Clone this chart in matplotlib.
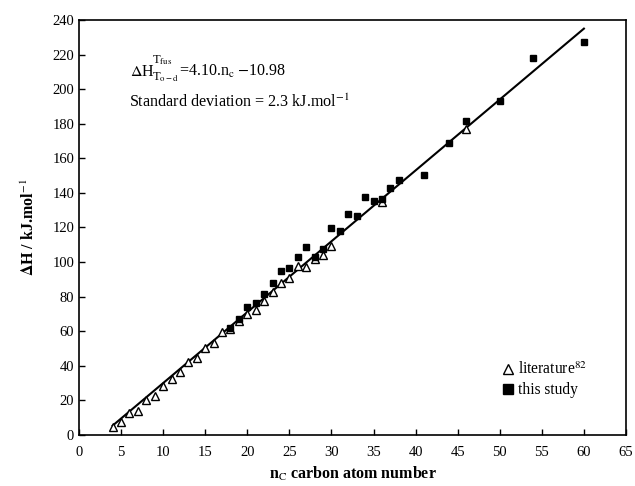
import numpy as np
import matplotlib
matplotlib.use("Agg")
import matplotlib.pyplot as plt

# -----------------------------------------
# Data
# -----------------------------------------

lit_n = [4, 5, 6, 7, 8, 9, 10, 11, 12, 13, 14, 15, 16, 17, 18, 19, 20,
         21, 22, 23, 24, 25, 26, 27, 28, 29, 30, 36, 46]
lit_dh = [4.5, 7.7, 12.5, 14.0, 20.5, 22.3, 28.3, 32.4, 36.4, 42.0, 44.7,
          50.5, 53.0, 59.7, 61.5, 66.0, 70.0, 72.3, 77.3, 82.9, 88.1, 90.6,
          98.0, 97.0, 102.0, 104.0, 109.5, 134.6, 176.8]

study_n = [18, 19, 20, 21, 22, 23, 24, 25, 26, 27, 28, 29, 30, 31, 32, 33,
           34, 35, 36, 37, 38, 41, 44, 46, 50, 54, 60]
study_dh = [61.9, 66.9, 74.2, 76.5, 81.5, 87.7, 94.9, 96.8, 102.8, 108.5,
            103.0, 107.6, 119.9, 118.2, 127.6, 126.7, 137.8, 135.5, 136.3,
            143.0, 147.7, 150.2, 168.7, 181.8, 193.3, 218.2, 227.3]

slope = 4.10
intercept = -10.98
fit_range = [4, 60]

# -----------------------------------------
# Plot
# -----------------------------------------

plt.rcParams["font.family"] = ["Liberation Serif", "DejaVu Serif"]
plt.rcParams["mathtext.fontset"] = "stix"

fig = plt.figure(figsize=(6.35, 4.86), dpi=100)
ax = fig.add_axes([0.1244, 0.105, 0.8614, 0.8538])

x_fit = np.array(fit_range)
ax.plot(x_fit, slope * x_fit + intercept, color="black", lw=1.5, zorder=1)

ax.plot(lit_n, lit_dh, linestyle="none", marker="^", ms=6,
        mfc="white", mec="black", mew=1.0, label=r"literature$^{82}$", zorder=2)
ax.plot(study_n, study_dh, linestyle="none", marker="s", ms=5,
        mfc="black", mec="black", label="this study", zorder=3)

ax.set_xlim(0, 65)
ax.set_ylim(0, 240)
ax.set_xticks(range(0, 66, 5))
ax.set_yticks(range(0, 241, 20))
ax.tick_params(direction="in", length=4, labelsize=10.5, width=1)
ax.tick_params(axis="x", pad=8)

for s in ax.spines.values():
    s.set_linewidth(1.2)

ax.set_xlabel(r"n$_\mathrm{C}$ carbon atom number", fontsize=11.5,
              fontweight="bold", labelpad=4)
ax.set_ylabel(r"$\mathbf{\Delta}$H / kJ.mol$^{-1}$", fontsize=11.5,
              fontweight="bold", labelpad=10)

# equation with stacked limits
eq_pos = (6.1, 207.6)
ax.annotate(r"$\Delta$H", eq_pos, fontsize=11.5)
ax.annotate(r"T$_{\rm fus}$", eq_pos, xytext=(15.5, 9.5),
            textcoords="offset points", fontsize=9)
ax.annotate(r"T$_{\rm o-d}$", eq_pos, xytext=(15.5, -3),
            textcoords="offset points", fontsize=9)
ax.annotate(r"=4.10.n$_{\rm c}$ $-$10.98", eq_pos, xytext=(35, 0),
            textcoords="offset points", fontsize=11.5)
ax.text(6.0, 189.7, r"Standard deviation = 2.3 kJ.mol$^{-1}$", fontsize=11.6)

ax.legend(loc="lower right", frameon=False, fontsize=11.2,
          handlelength=0.6, handletextpad=0.4, labelspacing=0.25,
          markerscale=1.3, bbox_to_anchor=(0.955, 0.055))

fig.savefig("out.png", dpi=100)
